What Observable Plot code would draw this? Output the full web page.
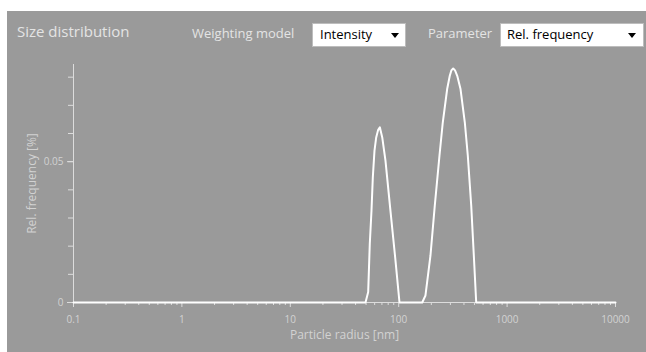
<!DOCTYPE html>
<html><head><meta charset="utf-8">
<script src="https://cdn.jsdelivr.net/npm/d3@7"></script>
<script src="https://cdn.jsdelivr.net/npm/@observablehq/plot@0.6"></script>
<style>
body{margin:0;background:#fff;width:646px;height:352px;overflow:hidden;font-family:"Open Sans",sans-serif}
#panel{position:absolute;left:7px;top:11px;width:639px;height:341px;background:#9a9a9a}
#header{position:relative;height:45px}
.t{position:absolute;color:#e4e4e4;white-space:nowrap;line-height:1}
.box{position:absolute;background:#fff;top:12px;height:24px;border:1px solid #bdbdbd;box-sizing:border-box}
.box span{position:absolute;top:4px;color:#000;font-size:13px;line-height:1;white-space:nowrap}
.tri{position:absolute;top:9px;width:0;height:0;border-left:4px solid transparent;border-right:4px solid transparent;border-top:5px solid #000}
#chart{position:absolute;left:0;top:45px}
</style></head>
<body>
<div id="panel">
  <div id="header">
    <div class="t" id="title" style="left:10px;top:13px;font-size:15px">Size distribution</div>
    <div class="t" style="left:185px;top:16px;font-size:13px">Weighting model</div>
    <div class="box" style="left:305px;width:94px"><span style="left:7px" id="wm"></span><div class="tri" style="left:78px"></div></div>
    <div class="t" style="left:421px;top:16px;font-size:13px">Parameter</div>
    <div class="box" style="left:493px;width:144px"><span style="left:6px" id="pm"></span><div class="tri" style="left:127px"></div></div>
  </div>
  <div id="chart"></div>
</div>
<script>
// Header texts
const weightingModel = "Intensity";
const parameterName = "Rel. frequency";

// Distribution data
const radius = [0.1, 49.4, 52.3, 54.1, 56.1, 57.7, 59.8, 62.0, 64.5, 67.0, 70.5, 75.5, 83.9, 93.4, 101.7,
                164.8, 176.6, 196.4, 215.2, 237.7, 255.0, 280.0, 295.9, 306.0, 318.2, 331.0, 346.7, 371.8, 407.4, 434.1, 466.7, 493.2, 518.8, 10000];
const frequency = [0, 0, 0.0037, 0.0208, 0.0326, 0.0444, 0.0539, 0.0586, 0.0612, 0.0622, 0.0586, 0.0504, 0.0326, 0.0149, 0,
                0, 0.0025, 0.0167, 0.0344, 0.0521, 0.0639, 0.0758, 0.0805, 0.0824, 0.0831, 0.0824, 0.0805, 0.0758, 0.0639, 0.0521, 0.0344, 0.0167, 0, 0];

const xMajorTicks = [0.1, 1, 10, 100, 1000, 10000];
const yMajorTicks = [0, 0.05];
const yMinorTicks = [0, 0.01, 0.02, 0.03, 0.04, 0.05, 0.06, 0.07, 0.08];
const xLabel = "Particle radius [nm]";
const yLabel = "Rel. frequency [%]";

document.getElementById("wm").textContent = weightingModel;
document.getElementById("pm").textContent = parameterName;

const data = radius.map((r, i) => ({r, f: frequency[i]}));
const xMinorTicks = [];
for (let e = -1; e < 4; e++) for (let k = 2; k <= 9; k++) xMinorTicks.push(+(k * Math.pow(10, e)).toPrecision(3));

const axisColor = "#dcdcdc";
const labelColor = "#d2d2d2";
const chart = Plot.plot({
  width: 639, height: 296,
  marginLeft: 66, marginRight: 31, marginTop: 8, marginBottom: 50,
  style: {background: "transparent", color: labelColor, fontSize: "10px", fontFamily: "'Open Sans', sans-serif"},
  x: {type: "log", domain: [0.1, 10000]},
  y: {domain: [0, 0.0845]},
  marks: [
    Plot.ruleX([0.1], {stroke: axisColor, y1: 0.0845, y2: 0}),
    Plot.ruleY([0], {stroke: axisColor}),
    Plot.axisX({ticks: xMinorTicks, tickSize: 3, stroke: axisColor, tickFormat: () => "", label: null}),
    Plot.axisX({ticks: xMajorTicks, tickSize: 5, tickPadding: 8, stroke: axisColor, tickFormat: d3.format("~g"), label: null}),
    Plot.axisY({ticks: yMinorTicks, tickSize: 5, stroke: axisColor, tickFormat: () => "", label: null}),
    Plot.axisY({ticks: yMajorTicks, tickSize: 6, tickPadding: 4, stroke: axisColor, tickFormat: d3.format("~g"), label: null}),
    Plot.text([xLabel], {frameAnchor: "bottom", dy: 36, fontSize: 12, fill: labelColor}),
    Plot.text([yLabel], {frameAnchor: "left", dx: -41, rotate: -90, textAnchor: "middle", fontSize: 12, fill: labelColor}),
    Plot.line(data, {x: "r", y: "f", stroke: "#ffffff", strokeWidth: 2})
  ]
});
document.getElementById("chart").appendChild(chart);
</script>
</body></html>
